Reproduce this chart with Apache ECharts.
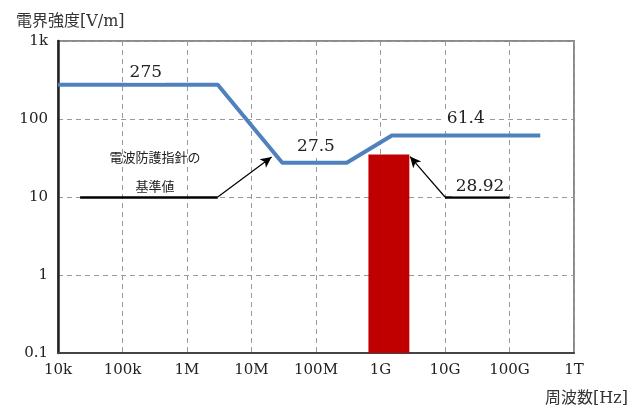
<!DOCTYPE html>
<html>
<head>
<meta charset="utf-8">
<script src="https://cdn.jsdelivr.net/npm/echarts@6/dist/echarts.min.js"></script>
<style>
  html, body { margin: 0; padding: 0; background: #fff; }
  #chart { width: 637px; height: 405px; }
</style>
</head>
<body>
<div id="chart"></div>
<script>
// 周波数 (Hz) と電界強度 (V/m) の基準値の折れ線
const limitFreqs = [1e4, 3e6, 3e7, 3e8, 1.5e9, 3e11];
const limitValues = [275, 275, 27.5, 27.5, 61.4, 61.4];

// 測定値の棒 (周波数範囲と値)
const barFreqRange = [6.5e8, 2.8e9];
const barValue = 35;

// 目盛りラベル
const xTickLabels = ['10k', '100k', '1M', '10M', '100M', '1G', '10G', '100G', '1T'];
const yTickLabels = ['0.1', '1', '10', '100', '1k'];

// 注記
const valueNotes = [
    { text: '275', at: [2.3e5, 390] },
    { text: '27.5', at: [1e8, 44] },
    { text: '61.4', at: [2.1e10, 100] },
    { text: '28.92', at: [3.5e10, 13.5] }
];
const refLevel = 10;
const refLine1 = [[2.2e4, refLevel], [3e6, refLevel], [2.05e7, 32.6]];
const refLine2 = [[1e11, refLevel], [1e10, refLevel], [2.87e9, 33]];

const SERIF = "'DejaVu Serif', 'Noto Sans CJK JP', serif";
const chart = echarts.init(document.getElementById('chart'));

function tickIndex(v) {
    return Math.round(Math.log10(v));
}

function refLineData(pts) {
    return [
        [{ coord: pts[0], symbol: 'none', lineStyle: { width: 2.5, color: '#000', type: 'solid' } },
         { coord: pts[1], symbol: 'none' }],
        [{ coord: pts[1], symbol: 'none', lineStyle: { width: 1.2, color: '#000', type: 'solid' } },
         { coord: pts[2], symbol: 'arrow', symbolSize: [8, 11] }]
    ];
}

chart.setOption({
    animation: false,
    title: [
        { text: '電界強度[V/m]', left: 11, top: 9, textStyle: { fontFamily: SERIF, fontSize: 16, fontWeight: 'normal', color: '#333' } },
        { text: '周波数[Hz]', left: 540, top: 386, textStyle: { fontFamily: SERIF, fontSize: 16, fontWeight: 'normal', color: '#333' } }
    ],
    grid: { left: 58, top: 41, width: 516, height: 312, show: true, borderColor: '#8a8a8a', borderWidth: 2, backgroundColor: 'transparent' },
    xAxis: {
        type: 'log', logBase: 10, min: 1e4, max: 1e12,
        axisLine: { onZero: false, lineStyle: { color: '#444', width: 2 } },
        axisTick: { show: false },
        axisLabel: {
            margin: 10, fontFamily: SERIF, fontSize: 15, color: '#222',
            formatter: v => xTickLabels[tickIndex(v) - 4]
        },
        splitLine: { show: true, lineStyle: { color: '#999', type: [5, 4], width: 1 } },
        minorTick: { show: false }
    },
    yAxis: {
        type: 'log', logBase: 10, min: 0.1, max: 1000,
        axisLine: { show: true, onZero: false, lineStyle: { color: '#222', width: 2.5 } },
        axisTick: { show: false },
        axisLabel: {
            margin: 10, fontFamily: SERIF, fontSize: 15, color: '#222',
            formatter: v => yTickLabels[tickIndex(v) + 1]
        },
        splitLine: { show: true, lineStyle: { color: '#999', type: [5, 4], width: 1 } }
    },
    series: [
        {
            type: 'custom',
            z: 3,
            encode: { x: [0, 1], y: 2 },
            data: [[barFreqRange[0], barFreqRange[1], barValue]],
            renderItem: (params, api) => {
                const p0 = api.coord([api.value(0), api.value(2)]);
                const p1 = api.coord([api.value(1), 0.1]);
                return {
                    type: 'rect',
                    shape: { x: p0[0], y: p0[1], width: p1[0] - p0[0], height: p1[1] - p0[1] },
                    style: { fill: '#C00000' }
                };
            },
            silent: true
        },
        {
            type: 'line',
            z: 4,
            data: limitFreqs.map((f, i) => [f, limitValues[i]]),
            symbol: 'none',
            lineStyle: { color: '#4F81BD', width: 4 },
            silent: true,
            markLine: {
                silent: true,
                animation: false,
                label: { show: false },
                emphasis: { disabled: true },
                data: refLineData(refLine1).concat(refLineData(refLine2))
            },
            markPoint: {
                silent: true,
                symbol: 'rect',
                symbolSize: 0,
                data: valueNotes.map(n => ({
                    coord: n.at,
                    label: {
                        show: true, position: 'inside', formatter: n.text,
                        fontFamily: SERIF, fontSize: 17, color: '#222',
                        backgroundColor: '#fff', padding: [1, 4]
                    }
                })).concat([
                    { coord: [3.2e5, 30.7], label: { show: true, position: 'inside', formatter: '電波防護指針の', fontFamily: SERIF, fontSize: 13, color: '#222' } },
                    { coord: [3.2e5, 13], label: { show: true, position: 'inside', formatter: '基準値', fontFamily: SERIF, fontSize: 13, color: '#222' } }
                ])
            }
        }
    ]
});
</script>
</body>
</html>
